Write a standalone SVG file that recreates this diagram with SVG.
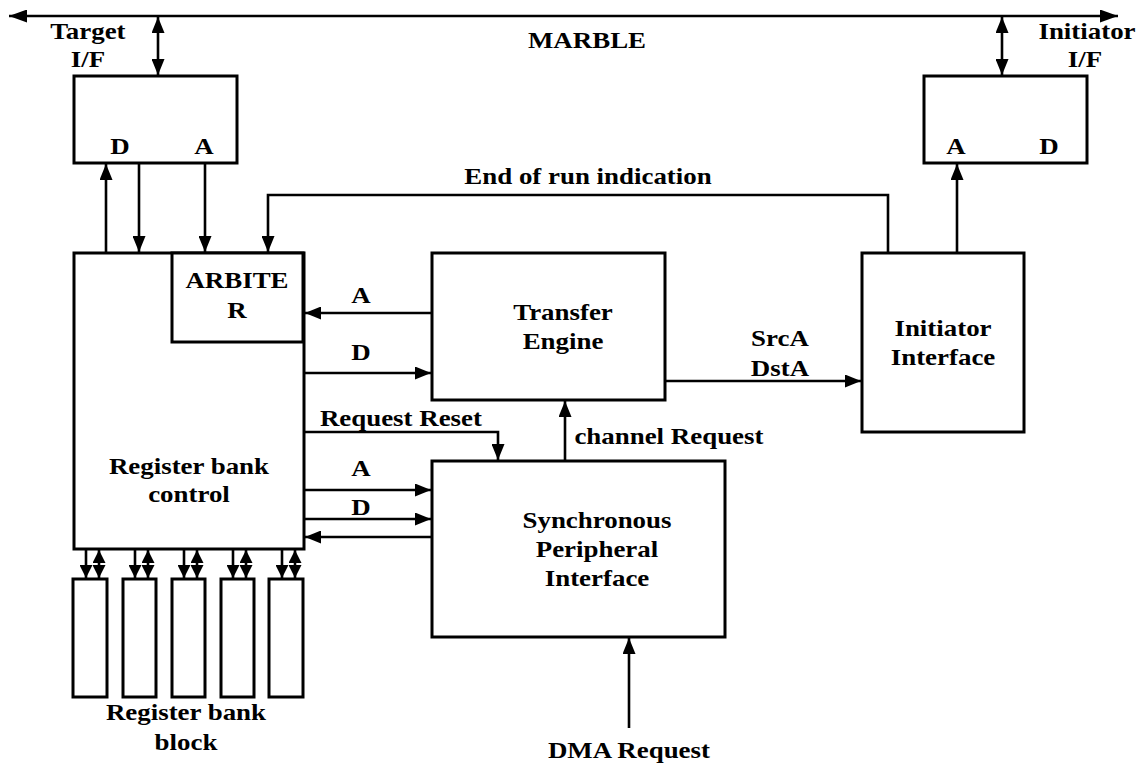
<svg xmlns="http://www.w3.org/2000/svg" width="1145" height="767" viewBox="0 0 1145 767">
  <style>
    .box { fill: #fff; stroke: #000; stroke-width: 3; }
    .ln { fill: none; stroke: #000; stroke-width: 2.6; }
    .t { font-family: "Liberation Serif", "Times New Roman", serif; font-weight: bold; font-size: 23px; fill: #000; text-anchor: middle;
         transform-box: fill-box; transform-origin: center; transform: scaleX(1.17); }
  </style>
  <defs>
    <marker id="ah" viewBox="0 0 16 13" refX="16" refY="6.5" markerWidth="16" markerHeight="13" markerUnits="userSpaceOnUse" orient="auto-start-reverse">
      <path d="M0,0 L16,6.5 L0,13 z" fill="#000"/>
    </marker>
    <marker id="ahs" viewBox="0 0 13 13" refX="13" refY="6.5" markerWidth="13" markerHeight="13" markerUnits="userSpaceOnUse" orient="auto-start-reverse">
      <path d="M0,0 L13,6.5 L0,13 z" fill="#000"/>
    </marker>
    <marker id="ahb" viewBox="0 0 18 13" refX="18" refY="6.5" markerWidth="18" markerHeight="13" markerUnits="userSpaceOnUse" orient="auto-start-reverse">
      <path d="M0,0 L18,6.5 L0,13 z" fill="#000"/>
    </marker>
  </defs>

  <rect width="1145" height="767" fill="#fff"/>

  <!-- MARBLE bus -->
  <g id="marble-bus">
    <line class="ln" x1="9" y1="16" x2="1118" y2="16" marker-start="url(#ahb)" marker-end="url(#ahb)"/>
    <text class="t" x="587" y="48">MARBLE</text>
  </g>

  <!-- Target interface -->
  <g id="target-if">
    <rect class="box" x="74" y="76" width="163" height="87"/>
    <text class="t" x="120" y="154">D</text>
    <text class="t" x="204" y="154">A</text>
    <text class="t" x="88" y="39">Target</text>
    <text class="t" x="88" y="67">I/F</text>
  </g>

  <!-- Initiator interface port -->
  <g id="initiator-if">
    <rect class="box" x="924" y="76" width="163" height="87"/>
    <text class="t" x="956" y="154">A</text>
    <text class="t" x="1049" y="154">D</text>
    <text class="t" x="1087" y="39">Initiator</text>
    <text class="t" x="1085" y="67">I/F</text>
  </g>

  <!-- Register bank control -->
  <g id="register-bank-control">
    <rect class="box" x="74" y="253" width="230" height="296"/>
    <text class="t" x="189" y="474">Register bank</text>
    <text class="t" x="189" y="502">control</text>
  </g>

  <g id="arbiter">
    <rect class="box" x="172" y="253" width="131" height="89"/>
    <text class="t" x="237" y="288">ARBITE</text>
    <text class="t" x="237" y="318">R</text>
  </g>

  <g id="transfer-engine">
    <rect class="box" x="432" y="253" width="233" height="147"/>
    <text class="t" x="563" y="320">Transfer</text>
    <text class="t" x="563" y="349">Engine</text>
  </g>

  <g id="initiator-interface">
    <rect class="box" x="862" y="253" width="162" height="179"/>
    <text class="t" x="943" y="336">Initiator</text>
    <text class="t" x="943" y="365">Interface</text>
  </g>

  <g id="sync-peripheral-interface">
    <rect class="box" x="432" y="461" width="293" height="176"/>
    <text class="t" x="597" y="528">Synchronous</text>
    <text class="t" x="597" y="557">Peripheral</text>
    <text class="t" x="597" y="586">Interface</text>
  </g>

  <!-- Register bank block -->
  <g id="register-bank-block">
    <rect class="box" x="73" y="579" width="34" height="118"/>
    <rect class="box" x="123" y="579" width="33" height="118"/>
    <rect class="box" x="172" y="579" width="33" height="118"/>
    <rect class="box" x="221" y="579" width="33" height="118"/>
    <rect class="box" x="269" y="579" width="34" height="118"/>
    <text class="t" x="186" y="720">Register bank</text>
    <text class="t" x="186" y="750">block</text>
  </g>

  <g id="dma-request">
    <text class="t" x="629" y="758">DMA Request</text>
  </g>

  <!-- Connectors -->
  <g id="connectors">
    <line class="ln" x1="158" y1="17" x2="158" y2="75" marker-start="url(#ah)" marker-end="url(#ah)"/>
    <line class="ln" x1="1002" y1="17" x2="1002" y2="75" marker-start="url(#ah)" marker-end="url(#ah)"/>

    <line class="ln" x1="106" y1="253" x2="106" y2="164" marker-end="url(#ah)"/>
    <line class="ln" x1="139" y1="163" x2="139" y2="252" marker-end="url(#ah)"/>
    <line class="ln" x1="205" y1="163" x2="205" y2="252" marker-end="url(#ah)"/>

    <path class="ln" d="M888,253 V195 H268 V252" marker-end="url(#ah)"/>
    <text class="t" x="588" y="184">End of run indication</text>

    <line class="ln" x1="957" y1="253" x2="957" y2="164" marker-end="url(#ah)"/>

    <line class="ln" x1="432" y1="313" x2="305" y2="313" marker-end="url(#ah)"/>
    <text class="t" x="361" y="303">A</text>
    <line class="ln" x1="304" y1="373" x2="431" y2="373" marker-end="url(#ah)"/>
    <text class="t" x="361" y="360">D</text>

    <path class="ln" d="M304,432 H498 V460" marker-end="url(#ah)"/>
    <text class="t" x="401" y="426">Request Reset</text>

    <line class="ln" x1="304" y1="490" x2="431" y2="490" marker-end="url(#ah)"/>
    <text class="t" x="361" y="476">A</text>
    <line class="ln" x1="304" y1="519" x2="431" y2="519" marker-end="url(#ah)"/>
    <text class="t" x="361" y="515">D</text>
    <line class="ln" x1="432" y1="537" x2="305" y2="537" marker-end="url(#ah)"/>

    <line class="ln" x1="565" y1="461" x2="565" y2="401" marker-end="url(#ah)"/>
    <text class="t" x="669" y="444">channel Request</text>

    <line class="ln" x1="665" y1="381" x2="861" y2="381" marker-end="url(#ah)"/>
    <text class="t" x="780" y="346">SrcA</text>
    <text class="t" x="780" y="376">DstA</text>

    <line class="ln" x1="629" y1="728" x2="629" y2="638" marker-end="url(#ah)"/>

    <!-- control-to-register links: one write arrow, one bidirectional per register -->
    <line class="ln" x1="86" y1="550" x2="86" y2="578" marker-end="url(#ahs)"/>
    <line class="ln" x1="99" y1="550" x2="99" y2="578" marker-start="url(#ahs)" marker-end="url(#ahs)"/>
    <line class="ln" x1="135" y1="550" x2="135" y2="578" marker-end="url(#ahs)"/>
    <line class="ln" x1="148" y1="550" x2="148" y2="578" marker-start="url(#ahs)" marker-end="url(#ahs)"/>
    <line class="ln" x1="184" y1="550" x2="184" y2="578" marker-end="url(#ahs)"/>
    <line class="ln" x1="197" y1="550" x2="197" y2="578" marker-start="url(#ahs)" marker-end="url(#ahs)"/>
    <line class="ln" x1="233" y1="550" x2="233" y2="578" marker-end="url(#ahs)"/>
    <line class="ln" x1="246" y1="550" x2="246" y2="578" marker-start="url(#ahs)" marker-end="url(#ahs)"/>
    <line class="ln" x1="282" y1="550" x2="282" y2="578" marker-end="url(#ahs)"/>
    <line class="ln" x1="295" y1="550" x2="295" y2="578" marker-start="url(#ahs)" marker-end="url(#ahs)"/>
  </g>
</svg>
